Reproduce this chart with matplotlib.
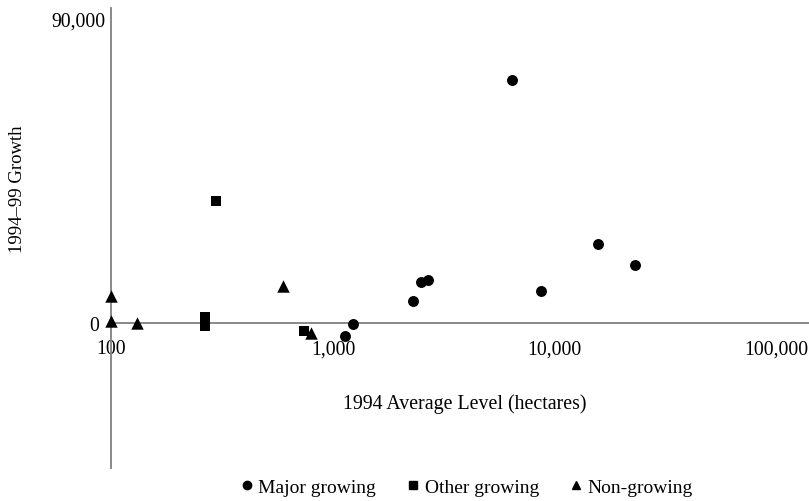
import numpy as np
import matplotlib
matplotlib.use("Agg")
import matplotlib.pyplot as plt
import matplotlib.transforms as mtransforms
from matplotlib.ticker import FixedLocator, FuncFormatter
from matplotlib.lines import Line2D

# 1994 average level (hectares) and 1994-99 growth, by group
major_x = [6430, 8690, 15700, 23100, 2305, 2496, 2676, 1235, 1133]
major_y = [71780, 9320, 23240, 17020, 6450, 11900, 12670, -440, -4080]

other_x = [297, 264, 264, 740]
other_y = [36050, 1540, -950, -2430]

non_x = [100, 100, 130, 595, 793]
non_y = [7750, 500, 0, 10900, -3110]

xticks = [100, 1000, 10000, 100000]
yticks = [0, 90000]

plt.rcParams['font.family'] = ['Liberation Serif', 'DejaVu Serif']

fig = plt.figure(figsize=(8.09, 5.02), dpi=100)
ax = fig.add_axes([0.1378, 0.0657, 0.8622, 0.9163])

ax.scatter(major_x, major_y, marker='o', s=62, color='black', linewidths=0,
           clip_on=False, zorder=3)
ax.scatter(other_x, other_y, marker='s', s=62, color='black', linewidths=0,
           clip_on=False, zorder=3)
ax.scatter(non_x, non_y, marker='^', s=80, color='black', linewidths=0,
           clip_on=False, zorder=3)

ax.set_xscale('log')
ax.set_xlim(100, 141000)
ax.set_ylim(-43000, 93100)

ax.xaxis.set_major_locator(FixedLocator(xticks))
ax.xaxis.set_minor_locator(FixedLocator([]))
ax.yaxis.set_major_locator(FixedLocator(yticks))
fmt = FuncFormatter(lambda v, p: f"{int(v):,}")
ax.xaxis.set_major_formatter(fmt)
ax.yaxis.set_major_formatter(fmt)
ax.tick_params(length=0, labelsize=14.2)
ax.tick_params(axis='x', pad=12)
ax.tick_params(axis='y', pad=4)

for s in ['top', 'right']:
    ax.spines[s].set_visible(False)
ax.spines['bottom'].set_position(('data', 0))
ax.spines['bottom'].set_color('#808080')
ax.spines['left'].set_color('#808080')
ax.spines['bottom'].set_linewidth(1.3)
ax.spines['left'].set_linewidth(1.3)
ax.patch.set_visible(False)

# nudge the "0" label left so it clears the markers on the axis
zero_lbl = ax.yaxis.get_major_ticks()[0].label1
zero_lbl.set_transform(zero_lbl.get_transform()
                       + mtransforms.ScaledTranslation(-7 / 100, 0, fig.dpi_scale_trans))

fig.text(465 / 809, 1 - 404 / 502, '1994 Average Level (hectares)',
         ha='center', va='center', fontsize=14.3)
fig.text(18 / 809, 1 - 189 / 502, '1994\u201399 Growth', rotation=90,
         ha='center', va='center', fontsize=13.5)

handles = [
    Line2D([], [], marker='o', ls='', color='black', markersize=6),
    Line2D([], [], marker='s', ls='', color='black', markersize=6),
    Line2D([], [], marker='^', ls='', color='black', markersize=6),
]
fig.legend(handles, ['Major growing', 'Other growing', 'Non-growing'],
           loc='center', bbox_to_anchor=(465 / 809, 1 - 488 / 502), ncol=3,
           frameon=False, fontsize=14, handletextpad=0.1, columnspacing=1.4,
           handlelength=1.0)

fig.savefig('out.png', dpi=100)
